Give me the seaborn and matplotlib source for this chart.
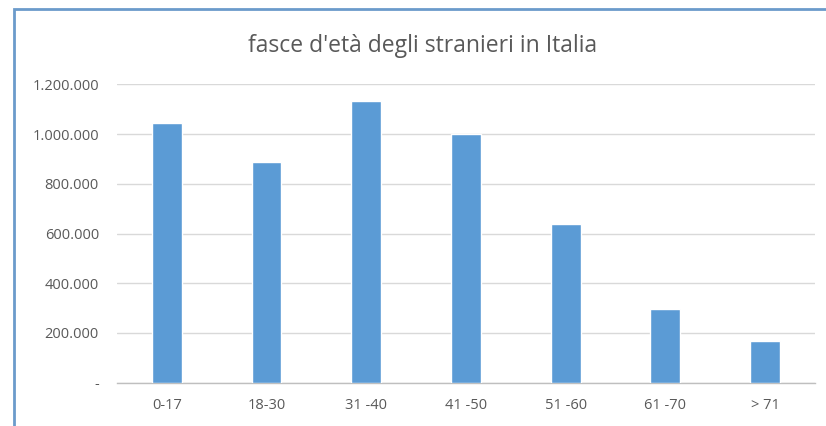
import matplotlib
matplotlib.use("Agg")
import matplotlib.pyplot as plt
import seaborn as sns
import pandas as pd
from matplotlib.patches import Rectangle
from matplotlib.ticker import FuncFormatter

# Foreign residents in Italy by age band
fasce = ["0-17", "18-30", "31 -40", "41 -50", "51 -60", "61 -70", "> 71"]
stranieri = [1046000, 889000, 1131000, 1000000, 640000, 296000, 166000]

df = pd.DataFrame({"fascia": fasce, "stranieri": stranieri})

sns.set_theme(style="white")
plt.rcParams["font.family"] = ["Open Sans", "DejaVu Sans"]

grey_text = "#595959"
bar_color = "#5b9bd5"

fig = plt.figure(figsize=(8.26, 4.26), dpi=100)
ax = fig.add_axes([0.1416, 0.1016, 0.845, 0.7005])

sns.barplot(data=df, x="fascia", y="stranieri", color=bar_color,
            saturation=1, width=0.3, ax=ax, zorder=3)

ax.set_ylim(0, 1200000)
ax.set_yticks(range(0, 1200001, 200000))
ax.set_xlim(-0.5, len(fasce) - 0.5)


def it_format(v, _pos):
    if v == 0:
        return "-"
    return f"{int(v):,}".replace(",", ".")


ax.yaxis.set_major_formatter(FuncFormatter(it_format))
ax.yaxis.grid(True, color="#d9d9d9", linewidth=1)
ax.set_axisbelow(True)
for side in ["top", "right", "left"]:
    ax.spines[side].set_visible(False)
ax.spines["bottom"].set_color("#bfbfbf")
ax.spines["bottom"].set_linewidth(1)

ax.set_xlabel("")
ax.set_ylabel("")
ax.tick_params(axis="both", length=0, labelsize=10.5, labelcolor=grey_text)
ax.tick_params(axis="y", pad=13)
ax.tick_params(axis="x", pad=11)
for lab in ax.get_yticklabels():
    lab.set_horizontalalignment("right")

fig.text(0.512, 0.893, "fasce d'età degli stranieri in Italia",
         ha="center", va="center", fontsize=16.5, color=grey_text)

# chart frame (left and top edges)
fig.patches.append(Rectangle((14 / 826, -0.05), 1.2, (426 - 9) / 426 + 0.05,
                             transform=fig.transFigure, fill=False,
                             edgecolor="#6b9bcb", linewidth=2, zorder=0))

fig.savefig("out.png", dpi=100)
